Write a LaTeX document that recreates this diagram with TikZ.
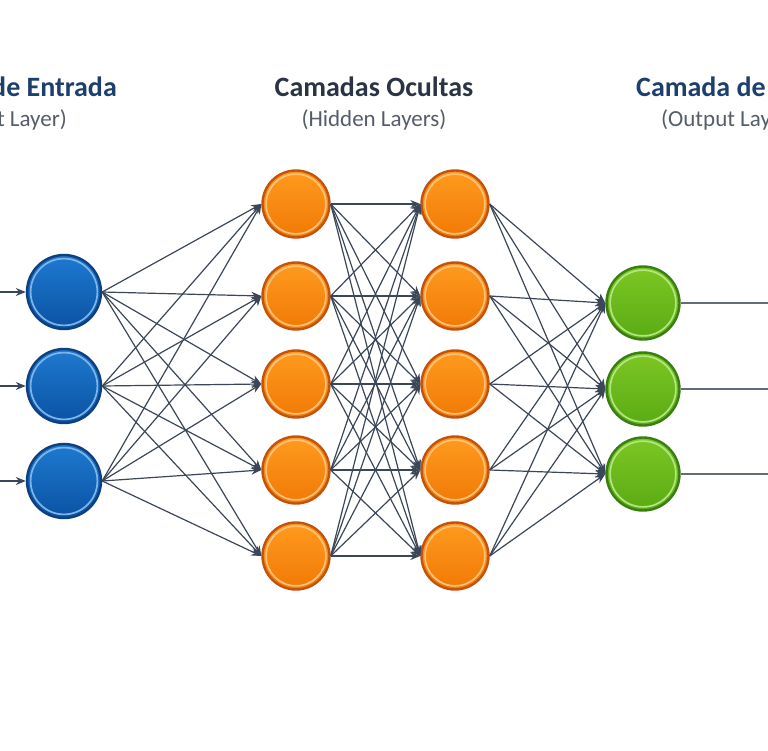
\documentclass[tikz,border=0pt]{standalone}
\usepackage{fontspec}
\setmainfont{Carlito}
\usetikzlibrary{arrows.meta}
\definecolor{linkcol}{HTML}{3B4758}
\definecolor{titleblue}{HTML}{1C3F6E}
\definecolor{titlegray}{HTML}{2B3444}
\definecolor{subgray}{HTML}{555D6A}
\definecolor{inedge}{HTML}{0E3F7E}
\definecolor{intop}{HTML}{1E7AD0}
\definecolor{inbot}{HTML}{0A52A3}
\definecolor{inring}{HTML}{7DB5EA}
\definecolor{hidedge}{HTML}{C4520B}
\definecolor{hidtop}{HTML}{FF9A1F}
\definecolor{hidbot}{HTML}{F07A06}
\definecolor{hidring}{HTML}{FFC27A}
\definecolor{outedge}{HTML}{3A7D12}
\definecolor{outtop}{HTML}{7CC724}
\definecolor{outbot}{HTML}{5AAA14}
\definecolor{outring}{HTML}{B2E67E}
\tikzset{
  neuron/.style n args={5}{circle, inner sep=0pt, minimum size=#1,
    draw=#2, line width=2.4pt, top color=#3, bottom color=#4,
    path picture={\draw[#5, line width=1.7pt]
      (path picture bounding box.center) circle (#1/2-3.6pt);}},
  inneuron/.style={neuron={74pt}{inedge}{intop}{inbot}{inring}},
  hidneuron/.style={neuron={67pt}{hidedge}{hidtop}{hidbot}{hidring}},
  outneuron/.style={neuron={73pt}{outedge}{outtop}{outbot}{outring}},
  link/.style={draw=linkcol, line width=1.2pt, -{Stealth[length=10pt,width=8pt]}},
  title/.style={inner sep=0pt, font=\fontsize{28}{32}\selectfont\bfseries},
  subtitle/.style={inner sep=0pt, font=\fontsize{23}{26}\selectfont, text=subgray},
}
\begin{document}
\begin{tikzpicture}[x=1pt,y=-1pt]
  \clip (0,0) rectangle (768,750);
  \fill[white] (0,0) rectangle (768,750);
  % titles
  \node[title, text=titleblue, anchor=base east] (tin) at (117,96) {Camada de Entrada};
  \node[subtitle, anchor=base east] (sin) at (67,126) {(Input Layer)};
  \node[title, text=titlegray, anchor=base] (thid) at (374,96) {Camadas Ocultas};
  \node[subtitle, anchor=base] (shid) at (374,126) {(Hidden Layers)};
  \node[title, text=titleblue, anchor=base west] (tout) at (636,96) {Camada de Saída};
  \node[subtitle, anchor=base west] (sout) at (661,126) {(Output Layer)};
  % neurons
  \foreach \i/\y in {1/292,2/386,3/481}
    \node[inneuron] (in\i) at (64,\y) {};
  \foreach \i/\y in {1/204,2/296,3/384,4/470,5/556} {
    \node[hidneuron] (hA\i) at (296,\y) {};
    \node[hidneuron] (hB\i) at (455,\y) {};
  }
  \foreach \i/\y in {1/303,2/389,3/474}
    \node[outneuron] (out\i) at (643,\y) {};
  % input and output lines
  \foreach \i in {1,2,3} {
    \coordinate (src\i) at (0,0 |- in\i);
    \draw[link] (src\i) -- (in\i.west);
    \coordinate (dst\i) at (768,0 |- out\i);
    \draw[linkcol!80, line width=1.4pt] (out\i.east) -- (dst\i);
  }
  % connections
  \foreach \i in {1,2,3}
    \foreach \j in {1,...,5}
      \draw[link] (in\i.east) -- (hA\j.west);
  \foreach \i in {1,...,5}
    \foreach \j in {1,...,5}
      \draw[link] (hA\i.east) -- (hB\j.west);
  \foreach \i in {1,...,5}
    \foreach \j in {1,2,3}
      \draw[link] (hB\i.east) -- (out\j.west);
\end{tikzpicture}
\end{document}
